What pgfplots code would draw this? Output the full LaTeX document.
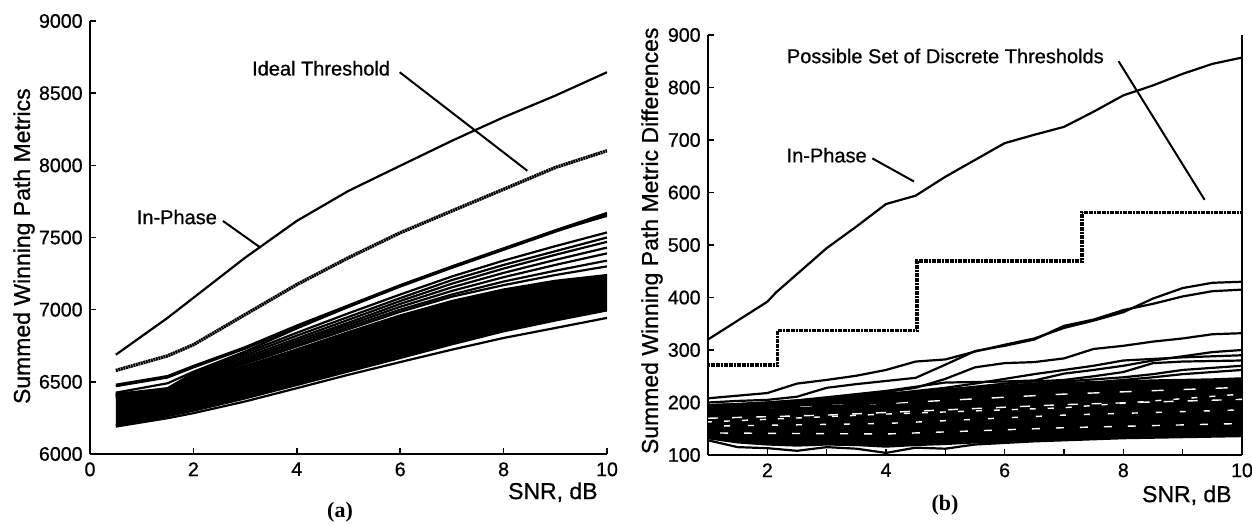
\documentclass[border=0pt]{standalone}
\usepackage{fontspec}
\setmainfont{Liberation Sans}[FakeBold=0.8]
\newfontfamily\capfont{Liberation Serif}
\usepackage{pgfplots}
\usepackage{pgfplotstable}
\pgfplotsset{compat=1.18}
\usepgfplotslibrary{fillbetween}

% left panel: bundle of curves, sampled at the same SNR points
\pgfplotstableread{
x    bot  cb   ct   l6   l5   l4   l3   l2   l1   b1   a3   a2   a1   ideal
0.5  6190 6200 6420 6390 6395 6400 6405 6410 6412 6415 6425 6470 6480 6579
1.5  6248 6262 6440 6438 6440 6442 6445 6448 6450 6456 6490 6530 6540 6680
2    6283 6300 6505 6512 6515 6522 6530 6540 6550 6560 6570 6600 6610 6757
3    6364 6385 6610 6625 6635 6645 6655 6670 6685 6700 6710 6730 6740 6966
4    6456 6478 6725 6745 6755 6770 6785 6800 6820 6840 6870 6880 6890 7174
5    6549 6572 6845 6865 6880 6895 6910 6930 6950 6975 7020 7020 7030 7360
6    6637 6665 6960 6985 7000 7020 7040 7060 7080 7105 7165 7160 7170 7533
7    6723 6760 7060 7090 7105 7130 7155 7180 7205 7230 7295 7290 7300 7684
8    6804 6850 7140 7170 7195 7225 7255 7285 7310 7340 7420 7415 7425 7834
9    6873 6925 7200 7240 7270 7310 7345 7380 7405 7440 7545 7540 7550 7985
10   6943 6995 7240 7300 7340 7390 7430 7470 7500 7535 7650 7660 7670 8101
}\bundleA

% right panel
\pgfplotstableread{
x    bb  bt  w1  u1  u2  u3  u4  u5  u6  u7  u8
1    132 195 128 208 200 192 195 190 188 185 180
1.5  124 197 115 213 203 195 197 193 190 187 183
2    120 200 113 218 205 198 200 196 192 190 186
2.5  118 204 108 236 211 200 204 200 196 194 189
3    120 208 115 243 228 208 210 205 200 198 192
3.5  119 212 112 251 235 214 216 210 206 203 196
4    116 217 104 262 241 220 222 215 212 208 200
4.5  119 221 114 278 247 228 230 222 218 214 205
5    121 225 112 282 272 245 238 228 224 220 210
5.5  124 229 120 297 298 267 239 236 230 226 216
6    126 232 123 310 308 275 240 245 236 232 222
6.5  128 235 126 322 320 277 242 254 240 236 228
7    130 237 128 342 346 284 255 262 243 240 234
7.5  132 239 130 356 358 302 262 270 250 244 238
8    134 240 132 372 376 308 270 280 258 248 243
8.5  135 242 133 398 388 316 280 283 275 254 248
9    136 243 134 418 402 322 288 286 278 262 254
9.5  137 244 135 428 412 330 296 288 279 266 258
10   138 246 136 430 415 332 300 290 280 270 262
}\bundleB

\pgfplotsset{
  paper/.style={
    scale only axis,
    axis line style={line width=0.9pt},
    tick style={black, line width=0.8pt},
    major tick length=3pt, minor tick length=3pt,
    tick align=inside,
    /pgf/number format/assume math mode=true,
    /pgf/number format/1000 sep={},
    ticklabel style={font=\fontsize{9.8}{10}\selectfont, inner sep=0pt},
    xticklabel style={yshift=-4pt},
    yticklabel style={xshift=-3.5pt},
    label style={font=\fontsize{11.5}{12}\selectfont, inner sep=0pt},
  },
}
\tikzset{
  band/.style={black, line width=1.1pt},
  curve/.style={black, line width=1.1pt},
  thr/.style={black, line width=1.9pt, dash pattern=on 1pt off 0.3pt},
  note/.style={font=\fontsize{10}{11}\selectfont, inner sep=0pt},
  hole/.style={white, line width=0.7pt},
  panel/.style={font=\capfont\bfseries\fontsize{11}{12}\selectfont, inner sep=0pt},
}

\begin{document}
\begin{tikzpicture}

\begin{axis}[paper,
  at={(45pt,35.5pt)}, anchor=south west,
  width=258.5pt, height=216.5pt,
  xmin=0, xmax=10, ymin=6000, ymax=9000,
  axis x line*=bottom, axis y line*=left,
  xtick={0,2,...,10}, ytick={6000,6500,...,9000},
  xlabel={SNR, dB}, ylabel={Summed Winning Path Metrics},
  xlabel style={at={(axis description cs:1,0)}, anchor=north east, xshift=-4.5pt, yshift=-14pt},
  ylabel style={at={(axis description cs:0,0.48)}, anchor=center, yshift=33pt},
]
\addplot[band, name path=acb] table[x=x, y=cb] {\bundleA};
\addplot[band, name path=act] table[x=x, y=ct] {\bundleA};
\addplot[black] fill between[of=act and acb];
\addplot[band] table[x=x, y=bot] {\bundleA};
\addplot[band] table[x=x, y=l6] {\bundleA};
\addplot[band] table[x=x, y=l5] {\bundleA};
\addplot[band] table[x=x, y=l4] {\bundleA};
\addplot[band] table[x=x, y=l3] {\bundleA};
\addplot[band] table[x=x, y=l2] {\bundleA};
\addplot[band] table[x=x, y=l1] {\bundleA};
\addplot[band] table[x=x, y=b1] {\bundleA};
\addplot[band] table[x=x, y=a3] {\bundleA};
\addplot[band] table[x=x, y=a2] {\bundleA};
\addplot[band] table[x=x, y=a1] {\bundleA};
\addplot[thr, line width=1.7pt] table[x=x, y=ideal] {\bundleA};
% in-phase
\addplot[curve] coordinates {
 (0.5,6688) (1.5,6943) (2,7082) (3,7360) (4,7615) (5,7823)
 (6,7997) (7,8170) (7.5,8252) (8,8333) (9,8483) (10,8645)};
% leader lines
\addplot[curve, line width=1pt] coordinates {(5.99,8645) (8.46,7962)};
\addplot[curve, line width=1pt] coordinates {(2.57,7615) (3.3,7429)};
\node[note] at (axis cs:4.47,8672) {Ideal Threshold};
\node[note] at (axis cs:1.68,7642) {In-Phase};
\end{axis}

\begin{axis}[paper,
  at={(354pt,35pt)}, anchor=south west,
  width=267pt, height=210pt,
  xmin=1, xmax=10, ymin=100, ymax=900,
  axis x line*=bottom, axis y line*=box, ytick pos=left,
  xtick={2,4,...,10}, minor xtick={3,5,7,9},
  ytick={100,200,...,900},
  xlabel={SNR, dB}, ylabel={Summed Winning Path Metric Differences},
  xlabel style={at={(axis description cs:1,0)}, anchor=north east, xshift=-5pt, yshift=-15pt},
  ylabel style={at={(axis description cs:0,0.51)}, anchor=center, yshift=28pt},
]
\addplot[band, name path=bcb] table[x=x, y=bb] {\bundleB};
\addplot[band, name path=bct] table[x=x, y=bt] {\bundleB};
\addplot[black] fill between[of=bct and bcb];
% light gaps between the packed curves
\addplot[hole, dash pattern=on 5pt off 7pt] coordinates {(1,170) (3,176) (5,186) (7,196) (10,206)};
\addplot[hole, dash pattern=on 3pt off 9pt, dash phase=4pt] coordinates {(1,155) (4,160) (7,176) (10,186)};
\addplot[hole, dash pattern=on 6pt off 10pt, dash phase=2pt] coordinates {(1,186) (4,198) (7,216) (10,229)};
\addplot[hole, dash pattern=on 4pt off 8pt, dash phase=6pt] coordinates {(1,142) (4,140) (7,152) (10,160)};
\addplot[hole, dash pattern=on 3pt off 6pt, dash phase=1pt] coordinates {(1,163) (4,178) (7,190) (10,216)};
\addplot[band] table[x=x, y=w1] {\bundleB};
\addplot[band] table[x=x, y=u8] {\bundleB};
\addplot[band] table[x=x, y=u7] {\bundleB};
\addplot[band] table[x=x, y=u6] {\bundleB};
\addplot[band] table[x=x, y=u5] {\bundleB};
\addplot[band] table[x=x, y=u4] {\bundleB};
\addplot[band] table[x=x, y=u3] {\bundleB};
\addplot[band] table[x=x, y=u2] {\bundleB};
\addplot[band] table[x=x, y=u1] {\bundleB};
% discrete thresholds
\addplot[thr] coordinates {
 (1,272) (2.17,272) (2.17,337) (4.52,337) (4.52,470) (7.3,470) (7.3,562) (10,562)};
% in-phase
\addplot[curve] coordinates {
 (1,320) (2,392) (2.15,410) (3,494) (3.5,535) (4,578) (4.5,594) (5,630)
 (5.5,662) (6,694) (6.5,710) (7,725) (7.5,754) (8,785) (8.5,804)
 (9,826) (9.5,845) (10,857)};
\addplot[curve, line width=1pt] coordinates {(7.92,850) (9.37,586)};
\addplot[curve, line width=1pt] coordinates {(3.77,665) (4.47,621)};
\node[note] at (axis cs:5.0,860) {Possible Set of Discrete Thresholds};
\node[note] at (axis cs:3.0,671) {In-Phase};
\end{axis}

\node[panel] at (170pt,6.5pt) {(a)};
\node[panel] at (472.5pt,10pt) {(b)};
\pgfresetboundingbox
\path[use as bounding box] (0,0) rectangle (626pt,262.5pt);
\end{tikzpicture}
\end{document}
